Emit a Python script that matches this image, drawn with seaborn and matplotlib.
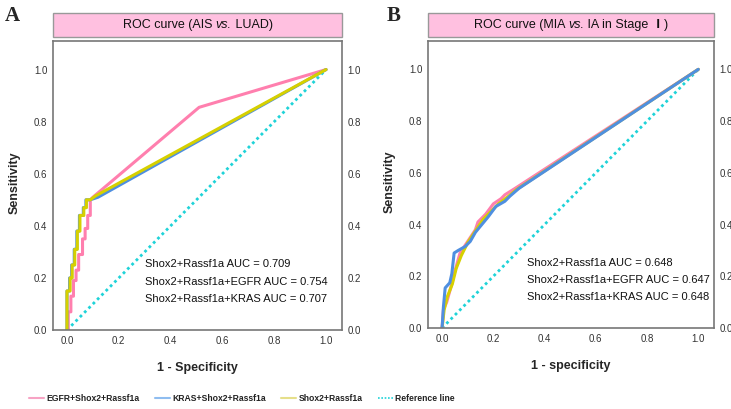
import matplotlib
matplotlib.use("Agg")
import matplotlib.pyplot as plt
from matplotlib.lines import Line2D
from matplotlib.patches import Rectangle
from matplotlib.offsetbox import TextArea, HPacker, AnnotationBbox
import seaborn as sns

sns.set_style("white")
plt.rcParams['font.family'] = ['Liberation Sans', 'DejaVu Sans', 'Noto Sans CJK SC']

# panel A: AIS vs LUAD (1-specificity, sensitivity)
a_egfr_x = [0, 0.005, 0.005, 0.015, 0.015, 0.025, 0.025, 0.035, 0.035, 0.045, 0.045,
            0.06, 0.06, 0.07, 0.07, 0.08, 0.08, 0.09, 0.09, 0.10, 0.51, 1.0]
a_egfr_y = [0, 0, 0.07, 0.07, 0.13, 0.13, 0.19, 0.19, 0.23, 0.23, 0.29,
            0.29, 0.35, 0.35, 0.39, 0.39, 0.44, 0.44, 0.50, 0.51, 0.855, 1.0]
a_kras_x = [0, 0, 0.01, 0.01, 0.018, 0.018, 0.028, 0.028, 0.038, 0.038, 0.048, 0.048,
            0.063, 0.063, 0.073, 0.073, 0.09, 0.12, 1.0]
a_kras_y = [0, 0.15, 0.15, 0.20, 0.20, 0.25, 0.25, 0.31, 0.31, 0.38, 0.38, 0.44,
            0.44, 0.47, 0.47, 0.50, 0.50, 0.51, 1.0]
a_shox_x = [0, 0, 0.012, 0.012, 0.02, 0.02, 0.03, 0.03, 0.04, 0.04, 0.05, 0.05,
            0.065, 0.065, 0.075, 0.075, 0.09, 0.11, 1.0]
a_shox_y = [0, 0.15, 0.15, 0.20, 0.20, 0.25, 0.25, 0.31, 0.31, 0.38, 0.38, 0.44,
            0.44, 0.47, 0.47, 0.50, 0.50, 0.515, 1.0]

# panel B: MIA vs IA in stage I
b_egfr_x = [0, 0.005, 0.018, 0.035, 0.05, 0.07, 0.10, 0.13, 0.14, 0.17, 0.20, 0.23, 0.245, 0.285, 1.0]
b_egfr_y = [0, 0.07, 0.10, 0.16, 0.22, 0.29, 0.335, 0.38, 0.41, 0.44, 0.48, 0.50, 0.515, 0.54, 1.0]
b_kras_x = [0, 0.005, 0.012, 0.03, 0.038, 0.047, 0.063, 0.09, 0.11, 0.13, 0.155, 0.18, 0.21, 0.245, 0.265, 0.30, 1.0]
b_kras_y = [0, 0.08, 0.155, 0.175, 0.21, 0.29, 0.30, 0.315, 0.335, 0.37, 0.40, 0.43, 0.47, 0.49, 0.51, 0.54, 1.0]
b_shox_x = [0, 0.008, 0.02, 0.04, 0.055, 0.075, 0.10, 0.13, 0.16, 0.19, 0.22, 0.26, 0.29, 1.0]
b_shox_y = [0, 0.07, 0.12, 0.17, 0.23, 0.28, 0.33, 0.375, 0.42, 0.45, 0.48, 0.51, 0.535, 1.0]

ref_x = [0, 1]
ref_y = [0, 1]

auc_a = ["Shox2+Rassf1a AUC = 0.709", "Shox2+Rassf1a+EGFR AUC = 0.754", "Shox2+Rassf1a+KRAS AUC = 0.707"]
auc_b = ["Shox2+Rassf1a AUC = 0.648", "Shox2+Rassf1a+EGFR AUC = 0.647", "Shox2+Rassf1a+KRAS AUC = 0.648"]
ticks = [0.0, 0.2, 0.4, 0.6, 0.8, 1.0]
legend_labels = ["EGFR+Shox2+Rassf1a", "KRAS+Shox2+Rassf1a", "Shox2+Rassf1a", "Reference line"]

pink = "#ff7fae"
blue = "#4f8fe0"
yellow = "#d6d000"
cyan = "#1fd3d8"

fig = plt.figure(figsize=(7.31, 4.09), dpi=100)
axA = fig.add_axes([0.0725, 0.193, 0.3955, 0.707])
axB = fig.add_axes([0.5855, 0.198, 0.3915, 0.702])


def panel(ax, curves, title_parts, auc, text_x, xlabel, xmin, xmax):
    sns.lineplot(x=ref_x, y=ref_y, ax=ax, color=cyan, lw=2, linestyle=(0, (1, 1.2)))
    for xs, ys, c in curves:
        sns.lineplot(x=xs, y=ys, ax=ax, color=c, lw=2.2, sort=False, estimator=None)
    ax.set_xlim(xmin, xmax)
    ax.set_ylim(0, 1.11)
    ax.set_xticks(ticks)
    ax.set_yticks(ticks)
    ax.set_xticklabels([f"{t:.1f}" for t in ticks])
    ax.set_yticklabels([f"{t:.1f}" for t in ticks])
    ax.tick_params(length=0, labelsize=7, labelcolor="#333333", pad=4,
                   labelright=True, left=False, right=False)
    for s in ax.spines.values():
        s.set_color("#777777")
        s.set_linewidth(1.2)
    ax.set_xlabel(xlabel, fontsize=9, fontweight="bold")
    ax.set_ylabel("Sensitivity", fontsize=9, fontweight="bold")
    ax.yaxis.set_label_coords(-0.112, 0.51)
    ax.xaxis.set_label_coords(0.5, -0.11)
    for i, t in enumerate(auc):
        ax.text(text_x, 0.252 - 0.067 * i, t, fontsize=8, va="center", ha="left", color="#111111")
    # pink title box
    ax.add_patch(Rectangle((0, 1.014), 1, 0.083, transform=ax.transAxes, clip_on=False,
                           facecolor="#ffc0e0", edgecolor="#999999", lw=1))
    parts = [TextArea(p, textprops=dict(fontsize=9, style=st, family=fam, weight=w, color="#111111"))
             for p, st, fam, w in title_parts]
    box = HPacker(children=parts, align="baseline", pad=0, sep=0)
    ab = AnnotationBbox(box, (0.5, 1.056), xycoords="axes fraction", frameon=False,
                        box_alignment=(0.5, 0.5), annotation_clip=False)
    ax.add_artist(ab)


sans = "Liberation Sans"
cjk = "Noto Sans CJK SC"
panel(axA, [(a_egfr_x, a_egfr_y, pink), (a_kras_x, a_kras_y, blue), (a_shox_x, a_shox_y, yellow)],
      [("ROC curve (AIS ", "normal", sans, "normal"), ("vs.", "italic", sans, "normal"),
       (" LUAD)", "normal", sans, "normal")],
      auc_a, 0.30, "1 - Specificity", -0.054, 1.062)
panel(axB, [(b_egfr_x, b_egfr_y, pink), (b_shox_x, b_shox_y, yellow), (b_kras_x, b_kras_y, blue)],
      [("ROC curve (MIA ", "normal", sans, "normal"), ("vs.", "italic", sans, "normal"),
       (" IA in Stage ", "normal", sans, "normal"), ("\u2160", "normal", cjk, "bold"),
       (")", "normal", sans, "normal")],
      auc_b, 0.33, "1 - specificity", -0.055, 1.062)

fig.text(0.017, 0.962, "A", fontsize=15, fontweight="bold", family="Liberation Serif", va="center", ha="center")
fig.text(0.538, 0.962, "B", fontsize=15, fontweight="bold", family="Liberation Serif", va="center", ha="center")

handles = [Line2D([], [], color="#f7a3c4", lw=1.5),
           Line2D([], [], color="#8fbdf0", lw=1.5),
           Line2D([], [], color="#e6df8a", lw=1.5),
           Line2D([], [], color=cyan, lw=1.2, linestyle=(0, (1, 1)))]
fig.legend(handles, legend_labels, loc="center", bbox_to_anchor=(0.331, 0.025), ncol=4,
           frameon=False, handlelength=1.7, handletextpad=0.3, columnspacing=1.8,
           prop=dict(family="Liberation Sans", size=6.2, weight="bold"),
           labelcolor="#222222")

fig.savefig("out.png", dpi=100)
